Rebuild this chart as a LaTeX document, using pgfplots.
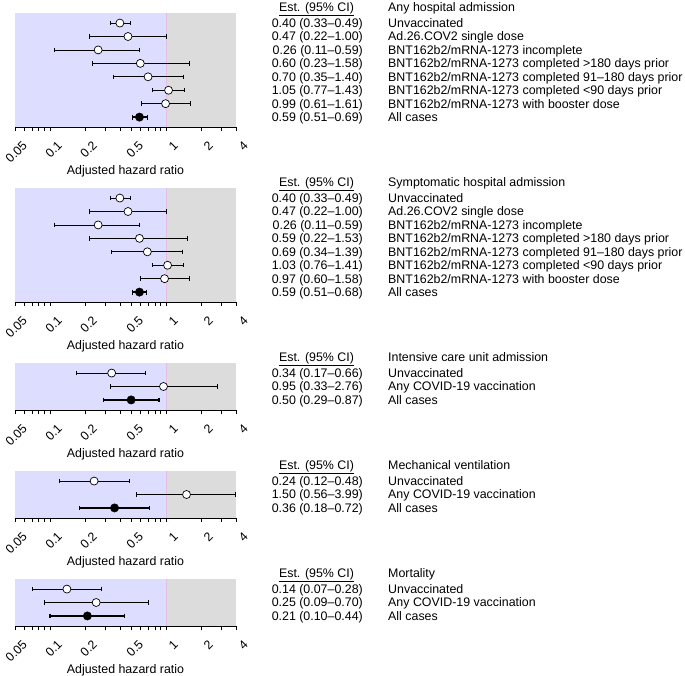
\documentclass[border=0pt]{standalone}
\usepackage{fontspec}
\setmainfont{Liberation Sans}
\usepackage{pgfplots}
\pgfplotsset{compat=1.18}
\definecolor{bluezone}{RGB}{221,221,255}
\definecolor{grayzone}{RGB}{220,220,220}
\definecolor{oneline}{RGB}{228,190,228}

\newcommand{\est}[3]{%
 \node[anchor=base east, inner sep=0pt] at ([xshift=127pt,yshift=-4.4pt]axis cs:4,#1) {#2};
 \node[anchor=base west, inner sep=0pt] at ([xshift=152pt,yshift=-4.4pt]axis cs:4,#1) {#3};}
\newcommand{\hdr}[2]{%
 \node[anchor=base, inner sep=0pt] at ([xshift=80.5pt,yshift=-4.4pt]axis cs:4,#1) {\underline{Est. (95\% CI)}};
 \node[anchor=base west, inner sep=0pt] at ([xshift=152pt,yshift=-4.4pt]axis cs:4,#1) {#2};}
\newcommand{\zones}[1]{%
 \addplot[fill=bluezone, draw=none] coordinates {(0.05,0.25) (1,0.25) (1,#1) (0.05,#1)} -- cycle;
 \addplot[fill=grayzone, draw=none] coordinates {(1,0.25) (4,0.25) (4,#1) (1,#1)} -- cycle;
 \addplot[oneline, line width=0.5pt] coordinates {(1,0.25) (1,#1)};}
% confidence interval line with end caps: row, lower, upper
\newcommand{\ci}[3]{%
 \addplot[black, line width=0.8pt, mark=|, mark size=2.2pt, mark options={line width=0.8pt}] coordinates {(#2,#1) (#3,#1)};}
\newcommand{\ciall}[3]{%
 \addplot[black, line width=1.7pt, mark=|, mark size=2.4pt, mark options={line width=1.2pt}] coordinates {(#2,#1) (#3,#1)};}

\begin{document}
\fontsize{12.4}{14}\selectfont
\begin{tikzpicture}[font=\fontsize{12.4}{14}\selectfont]
\path[use as bounding box] (0,0) rectangle (685pt,675pt);

% ---------------- Panel 1
\begin{axis}[scale only axis, width=221pt, height=114.2pt, xmode=log, xmin=0.05, xmax=4, ymin=0.25, ymax=8.75, clip=false,
  axis x line*=bottom, axis y line=none, axis on top,
  xtick={0.05,0.1,0.2,0.5,1,2,4}, xticklabels={0.05,0.1,0.2,0.5,1,2,4},
  minor xtick={0.06,0.07,0.08,0.09,0.3,0.4,0.6,0.7,0.8,0.9,3},
  tick align=outside, major tick length=3.5pt, minor tick length=3.5pt,
  tick style={black, line width=0.6pt}, axis line style={black, line width=0.6pt},
  xticklabel style={rotate=45, anchor=east, inner sep=0pt, xshift=-2pt, yshift=-16pt},
  xlabel={Adjusted hazard ratio},
  xlabel style={at={(axis description cs:0.5,0)}, anchor=center, yshift=-44pt},
  at={(15pt,662pt)}, anchor=north west]
\zones{8.75}
\ci{8}{0.33}{0.49}
\ci{7}{0.22}{1.00}
\ci{6}{0.11}{0.59}
\ci{5}{0.23}{1.58}
\ci{4}{0.35}{1.40}
\ci{3}{0.77}{1.43}
\ci{2}{0.61}{1.61}
\ciall{1}{0.51}{0.69}
\addplot[only marks, mark=*, mark size=4pt, mark options={fill=white, draw=black, line width=0.7pt}]
 coordinates {(0.40,8) (0.47,7) (0.26,6) (0.60,5) (0.70,4) (1.05,3) (0.99,2)};
\addplot[only marks, mark=*, mark size=4.2pt, mark options={fill=black, draw=black}] coordinates {(0.59,1)};
\hdr{9.2}{Any hospital admission}
\est{8}{0.40 (0.33–0.49)}{Unvaccinated}
\est{7}{0.47 (0.22–1.00)}{Ad.26.COV2 single dose}
\est{6}{0.26 (0.11–0.59)}{BNT162b2/mRNA-1273 incomplete}
\est{5}{0.60 (0.23–1.58)}{BNT162b2/mRNA-1273 completed >180 days prior}
\est{4}{0.70 (0.35–1.40)}{BNT162b2/mRNA-1273 completed 91–180 days prior}
\est{3}{1.05 (0.77–1.43)}{BNT162b2/mRNA-1273 completed <90 days prior}
\est{2}{0.99 (0.61–1.61)}{BNT162b2/mRNA-1273 with booster dose}
\est{1}{0.59 (0.51–0.69)}{All cases}
\end{axis}

% ---------------- Panel 2
\begin{axis}[scale only axis, width=221pt, height=114.2pt, xmode=log, xmin=0.05, xmax=4, ymin=0.25, ymax=8.75, clip=false,
  axis x line*=bottom, axis y line=none, axis on top,
  xtick={0.05,0.1,0.2,0.5,1,2,4}, xticklabels={0.05,0.1,0.2,0.5,1,2,4},
  minor xtick={0.06,0.07,0.08,0.09,0.3,0.4,0.6,0.7,0.8,0.9,3},
  tick align=outside, major tick length=3.5pt, minor tick length=3.5pt,
  tick style={black, line width=0.6pt}, axis line style={black, line width=0.6pt},
  xticklabel style={rotate=45, anchor=east, inner sep=0pt, xshift=-2pt, yshift=-16pt},
  xlabel={Adjusted hazard ratio},
  xlabel style={at={(axis description cs:0.5,0)}, anchor=center, yshift=-44pt},
  at={(15pt,487pt)}, anchor=north west]
\zones{8.75}
\ci{8}{0.33}{0.49}
\ci{7}{0.22}{1.00}
\ci{6}{0.11}{0.59}
\ci{5}{0.22}{1.53}
\ci{4}{0.34}{1.39}
\ci{3}{0.76}{1.41}
\ci{2}{0.60}{1.58}
\ciall{1}{0.51}{0.68}
\addplot[only marks, mark=*, mark size=4pt, mark options={fill=white, draw=black, line width=0.7pt}]
 coordinates {(0.40,8) (0.47,7) (0.26,6) (0.59,5) (0.69,4) (1.03,3) (0.97,2)};
\addplot[only marks, mark=*, mark size=4.2pt, mark options={fill=black, draw=black}] coordinates {(0.59,1)};
\hdr{9.2}{Symptomatic hospital admission}
\est{8}{0.40 (0.33–0.49)}{Unvaccinated}
\est{7}{0.47 (0.22–1.00)}{Ad.26.COV2 single dose}
\est{6}{0.26 (0.11–0.59)}{BNT162b2/mRNA-1273 incomplete}
\est{5}{0.59 (0.22–1.53)}{BNT162b2/mRNA-1273 completed >180 days prior}
\est{4}{0.69 (0.34–1.39)}{BNT162b2/mRNA-1273 completed 91–180 days prior}
\est{3}{1.03 (0.76–1.41)}{BNT162b2/mRNA-1273 completed <90 days prior}
\est{2}{0.97 (0.60–1.58)}{BNT162b2/mRNA-1273 with booster dose}
\est{1}{0.59 (0.51–0.68)}{All cases}
\end{axis}

% ---------------- Panel 3
\begin{axis}[scale only axis, width=221pt, height=47pt, xmode=log, xmin=0.05, xmax=4, ymin=0.25, ymax=3.75, clip=false,
  axis x line*=bottom, axis y line=none, axis on top,
  xtick={0.05,0.1,0.2,0.5,1,2,4}, xticklabels={0.05,0.1,0.2,0.5,1,2,4},
  minor xtick={0.06,0.07,0.08,0.09,0.3,0.4,0.6,0.7,0.8,0.9,3},
  tick align=outside, major tick length=3.5pt, minor tick length=3.5pt,
  tick style={black, line width=0.6pt}, axis line style={black, line width=0.6pt},
  xticklabel style={rotate=45, anchor=east, inner sep=0pt, xshift=-2pt, yshift=-16pt},
  xlabel={Adjusted hazard ratio},
  xlabel style={at={(axis description cs:0.5,0)}, anchor=center, yshift=-44pt},
  at={(15pt,312pt)}, anchor=north west]
\zones{3.75}
\ci{3}{0.17}{0.66}
\ci{2}{0.33}{2.76}
\ciall{1}{0.29}{0.87}
\addplot[only marks, mark=*, mark size=4pt, mark options={fill=white, draw=black, line width=0.7pt}]
 coordinates {(0.34,3) (0.95,2)};
\addplot[only marks, mark=*, mark size=4.2pt, mark options={fill=black, draw=black}] coordinates {(0.50,1)};
\hdr{4.2}{Intensive care unit admission}
\est{3}{0.34 (0.17–0.66)}{Unvaccinated}
\est{2}{0.95 (0.33–2.76)}{Any COVID-19 vaccination}
\est{1}{0.50 (0.29–0.87)}{All cases}
\end{axis}

% ---------------- Panel 4
\begin{axis}[scale only axis, width=221pt, height=47pt, xmode=log, xmin=0.05, xmax=4, ymin=0.25, ymax=3.75, clip=false,
  axis x line*=bottom, axis y line=none, axis on top,
  xtick={0.05,0.1,0.2,0.5,1,2,4}, xticklabels={0.05,0.1,0.2,0.5,1,2,4},
  minor xtick={0.06,0.07,0.08,0.09,0.3,0.4,0.6,0.7,0.8,0.9,3},
  tick align=outside, major tick length=3.5pt, minor tick length=3.5pt,
  tick style={black, line width=0.6pt}, axis line style={black, line width=0.6pt},
  xticklabel style={rotate=45, anchor=east, inner sep=0pt, xshift=-2pt, yshift=-16pt},
  xlabel={Adjusted hazard ratio},
  xlabel style={at={(axis description cs:0.5,0)}, anchor=center, yshift=-44pt},
  at={(15pt,204pt)}, anchor=north west]
\zones{3.75}
\ci{3}{0.12}{0.48}
\ci{2}{0.56}{3.99}
\ciall{1}{0.18}{0.72}
\addplot[only marks, mark=*, mark size=4pt, mark options={fill=white, draw=black, line width=0.7pt}]
 coordinates {(0.24,3) (1.50,2)};
\addplot[only marks, mark=*, mark size=4.2pt, mark options={fill=black, draw=black}] coordinates {(0.36,1)};
\hdr{4.2}{Mechanical ventilation}
\est{3}{0.24 (0.12–0.48)}{Unvaccinated}
\est{2}{1.50 (0.56–3.99)}{Any COVID-19 vaccination}
\est{1}{0.36 (0.18–0.72)}{All cases}
\end{axis}

% ---------------- Panel 5
\begin{axis}[scale only axis, width=221pt, height=47pt, xmode=log, xmin=0.05, xmax=4, ymin=0.25, ymax=3.75, clip=false,
  axis x line*=bottom, axis y line=none, axis on top,
  xtick={0.05,0.1,0.2,0.5,1,2,4}, xticklabels={0.05,0.1,0.2,0.5,1,2,4},
  minor xtick={0.06,0.07,0.08,0.09,0.3,0.4,0.6,0.7,0.8,0.9,3},
  tick align=outside, major tick length=3.5pt, minor tick length=3.5pt,
  tick style={black, line width=0.6pt}, axis line style={black, line width=0.6pt},
  xticklabel style={rotate=45, anchor=east, inner sep=0pt, xshift=-2pt, yshift=-16pt},
  xlabel={Adjusted hazard ratio},
  xlabel style={at={(axis description cs:0.5,0)}, anchor=center, yshift=-44pt},
  at={(15pt,96pt)}, anchor=north west]
\zones{3.75}
\ci{3}{0.07}{0.28}
\ci{2}{0.09}{0.70}
\ciall{1}{0.10}{0.44}
\addplot[only marks, mark=*, mark size=4pt, mark options={fill=white, draw=black, line width=0.7pt}]
 coordinates {(0.14,3) (0.25,2)};
\addplot[only marks, mark=*, mark size=4.2pt, mark options={fill=black, draw=black}] coordinates {(0.21,1)};
\hdr{4.2}{Mortality}
\est{3}{0.14 (0.07–0.28)}{Unvaccinated}
\est{2}{0.25 (0.09–0.70)}{Any COVID-19 vaccination}
\est{1}{0.21 (0.10–0.44)}{All cases}
\end{axis}
\end{tikzpicture}
\end{document}
